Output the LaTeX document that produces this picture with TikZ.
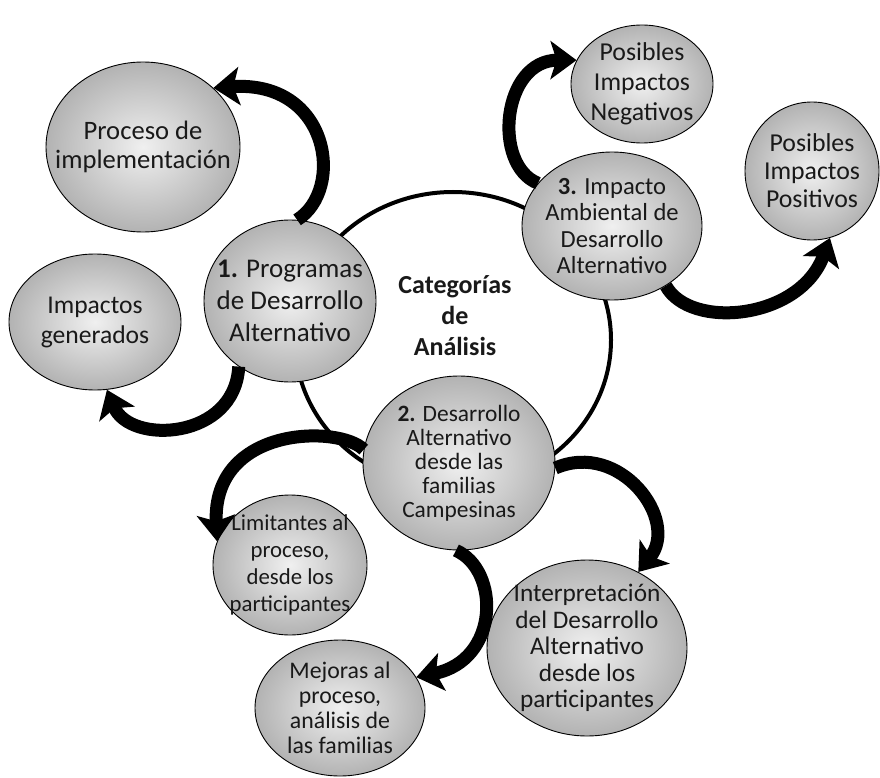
\documentclass[tikz,border=0pt]{standalone}
\usepackage{fontspec}
\setmainfont{Carlito}
\usetikzlibrary{shapes.geometric, arrows.meta}

\begin{document}
\begin{tikzpicture}[x=1pt, y=-1pt,
	bub/.style = {ellipse, draw=black, line width=0.9pt, inner color=black!6, outer color=black!30, inner sep=0pt},
	txt/.style 2 args = {align=center, text=black!90, inner sep=0pt, font=\fontsize{#1}{#2}\selectfont},
	ring/.style = {ellipse, draw=black, line width=4pt, inner sep=0pt},
	arr/.style = {-{Stealth[length=26pt, width=38pt, inset=6pt]}, line width=13pt}
	]
	\useasboundingbox (0,0) rectangle (880,778);

	%Ring
	\node[ring, minimum width=316pt, minimum height=296pt]	(cat)	at	(453, 340)	{};
	\node[txt={26}{31}]	(lbl)	at	(455, 316)	{\textbf{Categorías}\\\textbf{de}\\\textbf{Análisis}};

	%Nodes
	\node[bub, minimum width=194pt, minimum height=170pt, label={[txt={26.6}{29}]center:Proceso de\\implementación}]	(proc)	at	(143, 147)	{};
	\node[bub, minimum width=172pt, minimum height=136pt, label={[txt={25.6}{30}]center:Impactos\\generados}]	(impg)	at	(95, 322)	{};
	\node[bub, minimum width=172pt, minimum height=162pt, label={[txt={27}{32}]center:\textbf{1.} Programas\\de Desarrollo\\Alternativo}]	(prog)	at	(290, 301)	{};
	\node[bub, minimum width=142pt, minimum height=118pt, label={[txt={25.8}{30}]center:Posibles\\Impactos\\Negativos}]	(neg)	at	(642, 84)	{};
	\node[bub, minimum width=134pt, minimum height=138pt, label={[txt={25.8}{28}]center:Posibles\\Impactos\\Positivos}]	(pos)	at	(812, 171)	{};
	\node[bub, minimum width=180pt, minimum height=148pt, label={[txt={24.6}{26.5}]center:\textbf{3.} Impacto\\Ambiental de\\Desarrollo\\Alternativo}]	(amb)	at	(612, 226)	{};
	\node[bub, minimum width=192pt, minimum height=174pt, label={[txt={23.4}{24}]center:\textbf{2.} Desarrollo\\Alternativo\\desde las\\familias\\Campesinas}]	(fam)	at	(459, 463)	{};
	\node[bub, minimum width=154pt, minimum height=140pt, label={[txt={22.8}{27}]center:Limitantes al\\proceso,\\desde los\\participantes}]	(lim)	at	(290, 565)	{};
	\node[bub, minimum width=200pt, minimum height=176pt, label={[txt={25.3}{26.5}]center:Interpretación\\del Desarrollo\\Alternativo\\desde los\\participantes}]	(interp)	at	(587, 648)	{};
	\node[bub, minimum width=170pt, minimum height=136pt, label={[txt={23.8}{25}]center:Mejoras al\\proceso,\\análisis de\\las familias}]	(mej)	at	(340, 708)	{};

	%Arrows
	\draw[arr]	(prog.85)	.. controls (345, 190) and (330, 80) ..	(proc.40);
	\draw[arr]	(prog.232)	.. controls (235, 440) and (130, 445) ..	(impg.280);
	\draw[arr]	(fam.172)	.. controls (340, 425) and (212, 425) ..	(lim.162);
	\draw[arr]	(fam.-3)	.. controls (620, 440) and (680, 520) ..	(interp.56);
	\draw[arr]	(fam.268)	.. controls (500, 570) and (500, 660) ..	(mej.22);
	\draw[arr]	(amb.150)	.. controls (492, 165) and (502, 60) ..	(neg.160);
	\draw[arr]	(amb.-48)	.. controls (690, 330) and (800, 320) ..	(pos.-75);
\end{tikzpicture}
\end{document}
